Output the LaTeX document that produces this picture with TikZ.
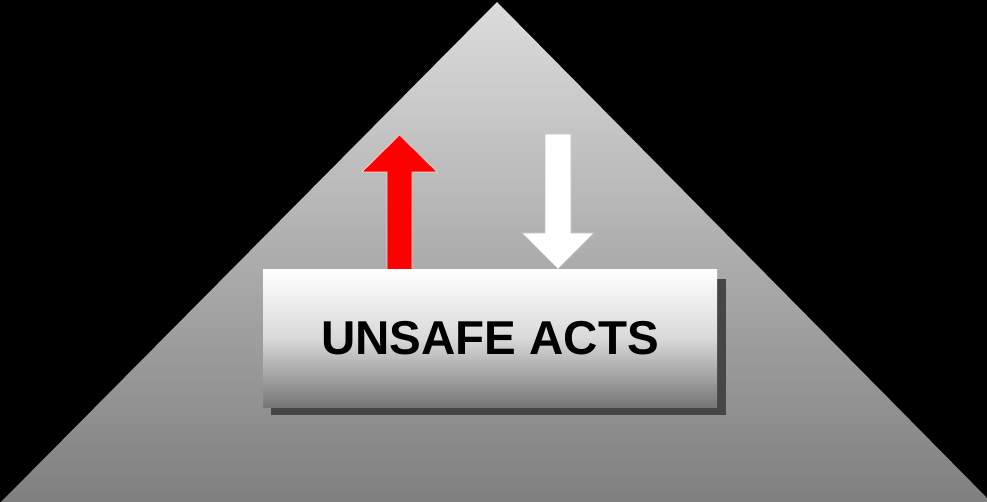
\documentclass[tikz,border=0pt]{standalone}
\usepackage{fontspec}
\setmainfont{Liberation Sans}
\begin{document}
\begin{tikzpicture}[x=1pt,y=-1pt]
\definecolor{tritop}{RGB}{220,220,220}
\definecolor{tribot}{RGB}{127,127,127}
\definecolor{boxbot}{RGB}{118,118,118}
\definecolor{boxshadow}{RGB}{70,70,70}
\definecolor{arrowred}{RGB}{255,0,0}
\tikzset{
  acts box/.style={minimum width=454pt, minimum height=137pt, inner sep=0pt,
    top color=white, bottom color=boxbot, middle color=white!72!boxbot,
    font=\fontsize{47.5}{47.5}\selectfont\bfseries},
  up arrow/.style={fill=arrowred, draw=white!85!red, line width=0.6pt},
  down arrow/.style={fill=white, draw=black!25, line width=0.6pt}
}
\useasboundingbox (0,0) rectangle (987,502);
\fill[black] (0,0) rectangle (987,502);
\shade[top color=tritop, bottom color=tribot] (0,503) -- (497,2) -- (992,503) -- cycle;
% arrows
\coordinate (upTip) at (399.5,135);
\coordinate (downTip) at (558,269);
\filldraw[up arrow] (upTip) -- ++(37.5,37) -- ++(-25,0) -- ++(0,100) -- ++(-25,0) -- ++(0,-100) -- ++(-25,0) -- cycle;
\filldraw[down arrow] (downTip) -- ++(36,-36) -- ++(-23,0) -- ++(0,-99) -- ++(-26,0) -- ++(0,99) -- ++(-23,0) -- cycle;
% box with shadow
\fill[boxshadow] (271,279) rectangle (726,415);
\node[acts box] (acts) at (490,338.5) {UNSAFE ACTS};
\end{tikzpicture}
\end{document}
